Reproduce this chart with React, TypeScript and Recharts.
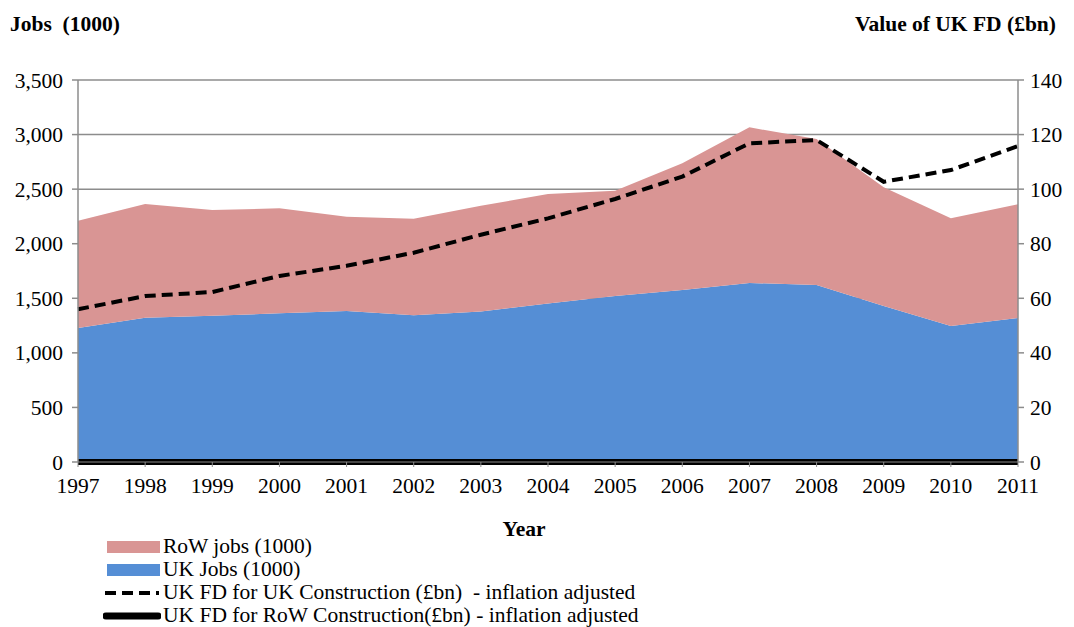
import {
    ComposedChart,
    Area,
    Line,
    XAxis,
    YAxis,
    CartesianGrid,
} from "recharts";

const years = [1997, 1998, 1999, 2000, 2001, 2002, 2003, 2004, 2005, 2006, 2007, 2008, 2009, 2010, 2011];
const ukJobs = [1228, 1322, 1340, 1362, 1383, 1344, 1380, 1452, 1521, 1576, 1640, 1622, 1429, 1246, 1319];
const rowJobs = [983, 1042, 969, 962, 865, 885, 968, 1003, 965, 1161, 1426, 1338, 1088, 987, 1042];
const ukFdUk = [56.0, 60.8, 62.3, 68.2, 71.9, 76.7, 83.3, 89.3, 96.4, 104.6, 116.8, 118.0, 102.7, 107.0, 115.8];
const ukFdRow = [0, 0, 0, 0, 0, 0, 0, 0, 0, 0, 0, 0, 0, 0, 0];

const leftTicks = [0, 500, 1000, 1500, 2000, 2500, 3000, 3500];
const rightTicks = [0, 20, 40, 60, 80, 100, 120, 140];

const data = years.map((year, i) => ({
    year,
    uk: ukJobs[i],
    row: rowJobs[i],
    fdUk: ukFdUk[i],
    fdRow: ukFdRow[i],
}));

const font = "'Liberation Serif', 'Times New Roman', serif";
const fs = 21.5;
const axisGray = "#8c8c8c";
const tickStyle = { fontSize: fs, fill: "#000", fontFamily: font };

function LegendRow({ kind, color, label }: { kind: string; color?: string; label: string }) {
    let swatch;
    if (kind === "box") {
        swatch = <div style={{ width: 53, height: 12, background: color, marginLeft: 4 }} />;
    } else if (kind === "dash") {
        swatch = (
            <svg width={58} height={8}>
                <line x1={2} y1={4} x2={56} y2={4} stroke="#000" strokeWidth={4} strokeDasharray="11 6" />
            </svg>
        );
    } else {
        swatch = (
            <svg width={58} height={10}>
                <line x1={3} y1={5} x2={55} y2={5} stroke="#000" strokeWidth={7} strokeLinecap="round" />
            </svg>
        );
    }
    return (
        <div style={{ display: "flex", alignItems: "center", height: 23 }}>
            <div style={{ width: 60, display: "flex", alignItems: "center" }}>{swatch}</div>
            <span style={{ whiteSpace: "pre" }}>{label}</span>
        </div>
    );
}

export default function App() {
    return (
        <div style={{ position: "absolute", left: 0, top: 0, width: 1074, height: 627, background: "#fff", fontFamily: font }}>
            <div style={{ position: "absolute", left: 10, top: 12, fontSize: fs, fontWeight: "bold", whiteSpace: "pre" }}>Jobs  (1000)</div>
            <div style={{ position: "absolute", right: 18, top: 12, fontSize: fs, fontWeight: "bold" }}>Value of UK FD (£bn)</div>

            <ComposedChart
                width={1074}
                height={627}
                data={data}
                margin={{ top: 80, right: 0, bottom: 130, left: 0 }}
            >
                <CartesianGrid vertical={false} stroke={axisGray} strokeWidth={1.5} yAxisId="left" />
                <XAxis
                    dataKey="year"
                    type="number"
                    domain={[1997, 2011]}
                    ticks={years}
                    interval={0}
                    height={35}
                    tick={tickStyle}
                    tickSize={5}
                    tickMargin={11}
                    stroke={axisGray}
                />
                <YAxis
                    yAxisId="left"
                    orientation="left"
                    domain={[0, 3500]}
                    ticks={leftTicks}
                    width={78}
                    tick={tickStyle}
                    tickSize={6}
                    tickMargin={9}
                    stroke={axisGray}
                    strokeWidth={1.5}
                    tickFormatter={(v) => v.toLocaleString("en-GB")}
                />
                <YAxis
                    yAxisId="right"
                    orientation="right"
                    domain={[0, 140]}
                    ticks={rightTicks}
                    width={56}
                    tick={{ ...tickStyle, textAnchor: "start" }}
                    tickSize={6}
                    tickMargin={6}
                    stroke={axisGray}
                    strokeWidth={1.5}
                />
                <Area
                    yAxisId="left"
                    dataKey="uk"
                    stackId="jobs"
                    type="linear"
                    stroke="none"
                    fill="#558ed5"
                    fillOpacity={1}
                    isAnimationActive={false}
                />
                <Area
                    yAxisId="left"
                    dataKey="row"
                    stackId="jobs"
                    type="linear"
                    stroke="none"
                    fill="#d99594"
                    fillOpacity={1}
                    isAnimationActive={false}
                />
                <Line
                    yAxisId="right"
                    dataKey="fdUk"
                    type="linear"
                    stroke="#000"
                    strokeWidth={4}
                    strokeDasharray="11 6"
                    dot={false}
                    isAnimationActive={false}
                />
                <Line
                    yAxisId="right"
                    dataKey="fdRow"
                    type="linear"
                    stroke="#000"
                    strokeWidth={6}
                    dot={false}
                    isAnimationActive={false}
                />
            </ComposedChart>

            <div style={{ position: "absolute", left: 0, width: 1048, top: 517, textAlign: "center", fontSize: fs, fontWeight: "bold" }}>Year</div>

            <div style={{ position: "absolute", left: 103, top: 535, fontSize: fs, lineHeight: "23px" }}>
                <LegendRow kind="box" color="#d99594" label="RoW jobs (1000)" />
                <LegendRow kind="box" color="#558ed5" label="UK Jobs (1000)" />
                <LegendRow kind="dash" label="UK FD for UK Construction (£bn)  - inflation adjusted" />
                <LegendRow kind="thick" label="UK FD for RoW Construction(£bn) - inflation adjusted" />
            </div>
        </div>
    );
}
